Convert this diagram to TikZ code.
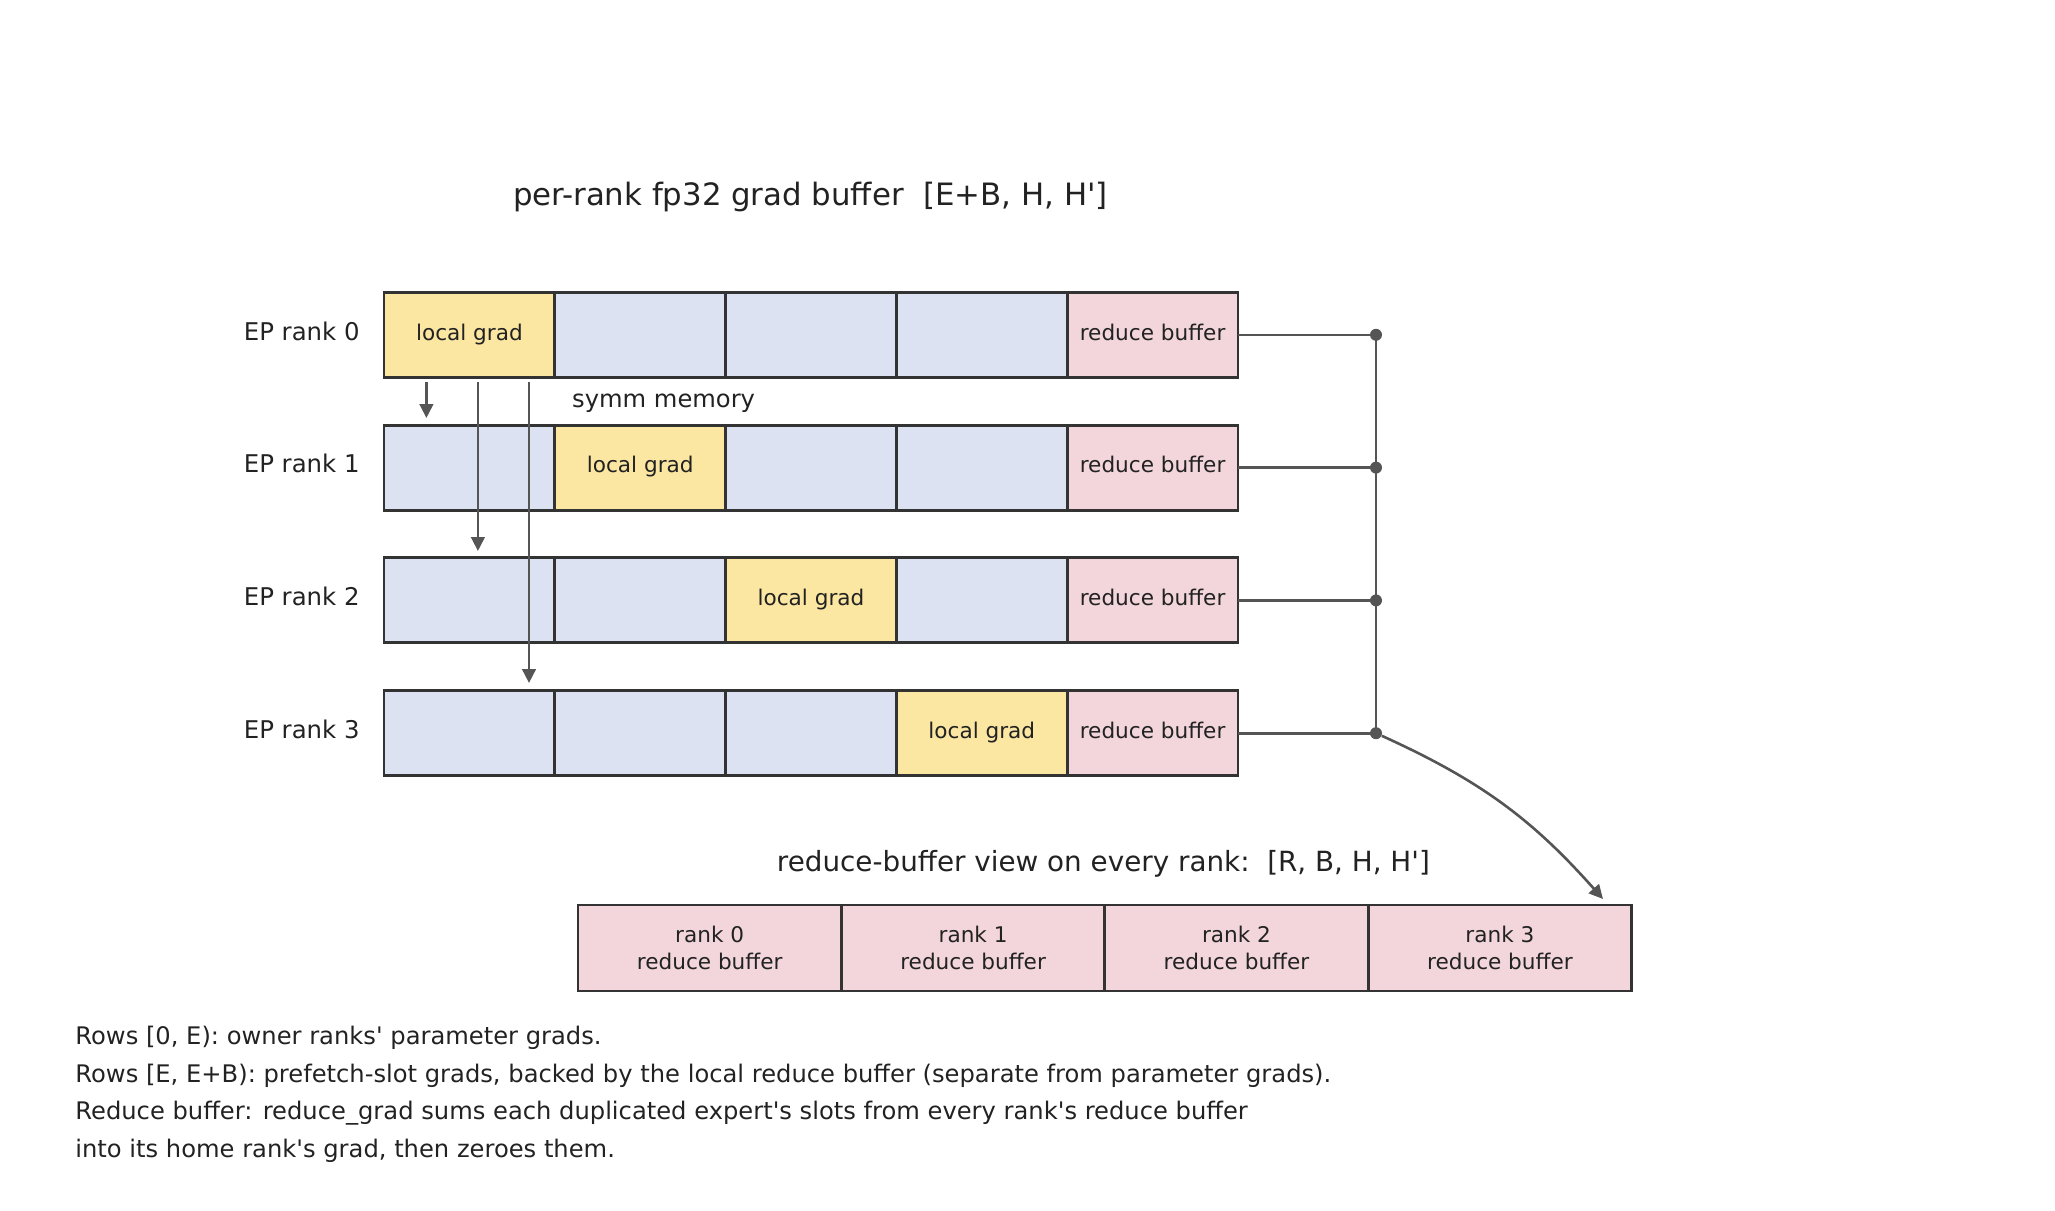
\documentclass[tikz,border=0pt]{standalone}
\usepackage{fontspec}
\setmainfont{DejaVu Sans}[Ligatures=TeXOff]
\usetikzlibrary{arrows.meta}
\usetikzlibrary{positioning}

\definecolor{gradyellow}{HTML}{FBE6A2}
\definecolor{slotblue}{HTML}{DDE2F2}
\definecolor{bufpink}{HTML}{F2D6DB}
\definecolor{edgegray}{HTML}{333333}
\definecolor{linkgray}{HTML}{555555}
\definecolor{inkgray}{HTML}{222222}

\begin{document}
\begin{tikzpicture}[x=0.5pt, y=-0.5pt, >={Triangle[length=7pt,width=6.8pt]},
    every node/.append style={text=inkgray},
    cell/.style={draw=edgegray, line width=1.45pt, minimum width=85.4pt, minimum height=42.5pt,
        inner sep=0pt, outer sep=0pt, font=\fontsize{10.8}{13}\selectfont,
        text height=0.76em, text depth=0.24em},
    viewcell/.style={draw=edgegray, line width=1.45pt, fill=bufpink, minimum width=131.7pt,
        minimum height=43pt, inner sep=0pt, outer sep=0pt, align=center,
        font=\fontsize{10.8}{13.35}\selectfont},
    ranklabel/.style={anchor=east, inner sep=0pt, font=\fontsize{12.2}{14}\selectfont,
        text height=0.76em, text depth=0.24em},
    heading/.style={anchor=base, inner sep=0pt},
    note/.style={anchor=base west, inner sep=0pt, font=\fontsize{12.1}{14}\selectfont},
    link/.style={draw=linkgray, line width=1.3pt},
    dot/.style={circle, fill=linkgray, inner sep=0pt, minimum size=6pt},
  ]
    \useasboundingbox (0,0) rectangle (2055,1210);

    \node[heading, font=\fontsize{15.4}{18}\selectfont] (title) at (810.4,205.7)
        {per-rank fp32 grad buffer\ \ [E+B, H, H']};

    % one row of the grad buffer per EP rank
    \foreach \r in {0,...,3}{
        \node[ranklabel] (lab\r) at (360,334.8+132.8*\r) {EP rank \r};
        \foreach \c in {0,...,3}{
            \ifnum\c=\r
                \node[cell, fill=gradyellow] (c\r\c) at (469.4+170.8*\c,334.8+132.8*\r) {local grad};
            \else
                \node[cell, fill=slotblue] (c\r\c) at (469.4+170.8*\c,334.8+132.8*\r) {};
            \fi
        }
        \node[cell, fill=bufpink] (c\r4) at (1152.6,334.8+132.8*\r) {reduce buffer};
        \node[dot] (d\r) at (1376,334.8+132.8*\r) {};
        \draw[link] (c\r4.east) -- (d\r.center);
    }
    \draw[link] (d0.center) -- (d3.center);

    % symmetric memory writes from rank 0
    \coordinate (src1) at (426.4,382);
    \coordinate (dst1) at (426.4,418);
    \coordinate (src2) at (477.9,382);
    \coordinate (dst2) at (477.9,551);
    \coordinate (src3) at (529,382);
    \coordinate (dst3) at (529,683);
    \draw[link, ->] (src1) -- (dst1);
    \draw[link, ->] (src2) -- (dst2);
    \draw[link, ->] (src3) -- (dst3);
    \node[anchor=base west, inner sep=0pt, font=\fontsize{12.1}{14}\selectfont] (symm) at (571.8,407) {symm memory};

    % reduce-buffer view
    \node[heading, font=\fontsize{13.9}{16}\selectfont] (viewtitle) at (1103.4,871)
        {reduce-buffer view on every rank:\ \ [R, B, H, H']};
    \foreach \k in {0,...,3}{
        \node[viewcell] (b\k) at (709.7+263.4*\k,948) {rank \k\\reduce buffer};
    }
    \coordinate (viewin) at (1603,899);
    \draw[link, ->, bend left=12] (d3) to (viewin);

    % notes
    \node[note] (note1) at (75,1044) {Rows [0, E): owner ranks' parameter grads.};
    \node[note] (note2) at (75,1082) {Rows [E, E+B): prefetch-slot grads, backed by the local reduce buffer (separate from parameter grads).};
    \node[note] (note3) at (75,1119) {Reduce buffer: reduce\_grad sums each duplicated expert's slots from every rank's reduce buffer};
    \node[note] (note4) at (75,1157) {into its home rank's grad, then zeroes them.};
\end{tikzpicture}
\end{document}
